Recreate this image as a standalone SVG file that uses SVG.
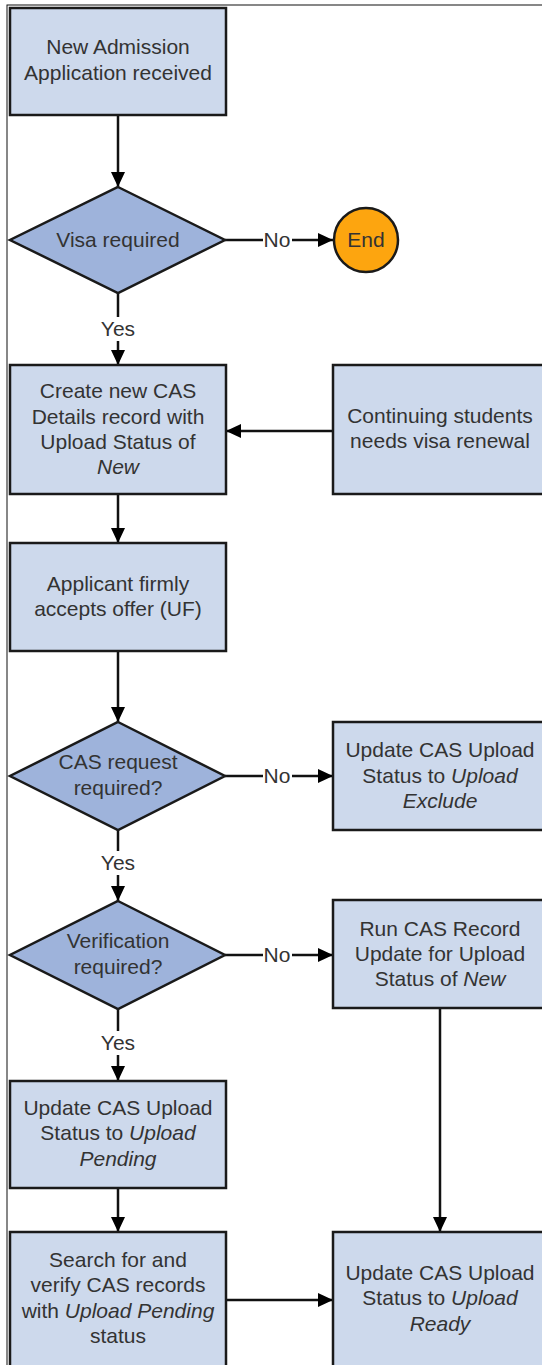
<svg xmlns="http://www.w3.org/2000/svg" width="542" height="1365" viewBox="0 0 542 1365">
<style>
.box{fill:#CDD9EC;stroke:#1a1a1a;stroke-width:2.5}
.dia{fill:#9EB3DB;stroke:#1a1a1a;stroke-width:2.5}
.t{font-family:"Liberation Sans",Arial,sans-serif;font-size:21px;fill:#333;text-anchor:middle}
.lbl{font-family:"Liberation Sans",Arial,sans-serif;font-size:21px;fill:#333;text-anchor:middle}
.e{stroke:#111;stroke-width:2.5;fill:none}
.bg{fill:#fff}
</style>
<defs>
<marker id="ah" markerUnits="userSpaceOnUse" markerWidth="16" markerHeight="16" refX="15" refY="8" orient="auto" viewBox="0 0 16 16">
<path d="M0,1 L15,8 L0,15 z" fill="#000"/>
</marker>
</defs>
<rect x="7" y="5" width="600" height="1400" fill="none" stroke="#111" stroke-width="1"/>
<g id="connectors">
<line class="e" x1="118" y1="115" x2="118" y2="187" marker-end="url(#ah)"/>
<line class="e" x1="225" y1="240" x2="333" y2="240" marker-end="url(#ah)"/>
<rect class="bg" x="263" y="228" width="29" height="24"/>
<text class="lbl" x="277" y="247">No</text>
<line class="e" x1="118" y1="293" x2="118" y2="365" marker-end="url(#ah)"/>
<rect class="bg" x="98" y="317" width="40" height="24"/>
<text class="lbl" x="118" y="336">Yes</text>
<line class="e" x1="333" y1="431" x2="226" y2="431" marker-end="url(#ah)"/>
<line class="e" x1="118" y1="494" x2="118" y2="543" marker-end="url(#ah)"/>
<line class="e" x1="118" y1="651" x2="118" y2="722" marker-end="url(#ah)"/>
<line class="e" x1="225" y1="776" x2="333" y2="776" marker-end="url(#ah)"/>
<rect class="bg" x="263" y="764" width="29" height="24"/>
<text class="lbl" x="277" y="783">No</text>
<line class="e" x1="118" y1="830" x2="118" y2="901" marker-end="url(#ah)"/>
<rect class="bg" x="98" y="851" width="40" height="24"/>
<text class="lbl" x="118" y="870">Yes</text>
<line class="e" x1="225" y1="955" x2="333" y2="955" marker-end="url(#ah)"/>
<rect class="bg" x="263" y="943" width="29" height="24"/>
<text class="lbl" x="277" y="962">No</text>
<line class="e" x1="118" y1="1009" x2="118" y2="1081" marker-end="url(#ah)"/>
<rect class="bg" x="98" y="1031" width="40" height="24"/>
<text class="lbl" x="118" y="1050">Yes</text>
<line class="e" x1="118" y1="1188" x2="118" y2="1232" marker-end="url(#ah)"/>
<line class="e" x1="440" y1="1008" x2="440" y2="1232" marker-end="url(#ah)"/>
<line class="e" x1="226" y1="1300" x2="333" y2="1300" marker-end="url(#ah)"/>
</g>
<g id="n1">
<rect class="box" x="10" y="8" width="216" height="107"/>
<text class="t" x="118" y="54">New Admission</text>
<text class="t" x="118" y="80">Application received</text>
</g>
<g id="d1">
<polygon class="dia" points="118,187 225,240 118,293 10,240"/>
<text class="t" x="118" y="247">Visa required</text>
</g>
<g id="end">
<circle cx="366" cy="240" r="32" fill="#FDA50F" stroke="#1a1a1a" stroke-width="2.5"/>
<text class="t" x="366" y="247">End</text>
</g>
<g id="n2">
<rect class="box" x="10" y="365" width="216" height="129"/>
<text class="t" x="118" y="398">Create new CAS</text>
<text class="t" x="118" y="424">Details record with</text>
<text class="t" x="118" y="449">Upload Status of</text>
<text class="t" x="118" y="474" font-style="italic">New</text>
</g>
<g id="n3">
<rect class="box" x="333" y="365" width="214" height="129"/>
<text class="t" x="440" y="423">Continuing students</text>
<text class="t" x="440" y="448">needs visa renewal</text>
</g>
<g id="n4">
<rect class="box" x="10" y="543" width="216" height="108"/>
<text class="t" x="118" y="591">Applicant firmly</text>
<text class="t" x="118" y="616">accepts offer (UF)</text>
</g>
<g id="d2">
<polygon class="dia" points="118,722 225,776 118,830 10,776"/>
<text class="t" x="118" y="769">CAS request</text>
<text class="t" x="118" y="795">required?</text>
</g>
<g id="n5">
<rect class="box" x="333" y="722" width="214" height="108"/>
<text class="t" x="440" y="757">Update CAS Upload</text>
<text class="t" x="440" y="783">Status to <tspan font-style="italic">Upload</tspan></text>
<text class="t" x="440" y="808" font-style="italic">Exclude</text>
</g>
<g id="d3">
<polygon class="dia" points="118,901 225,955 118,1009 10,955"/>
<text class="t" x="118" y="948">Verification</text>
<text class="t" x="118" y="974">required?</text>
</g>
<g id="n6">
<rect class="box" x="333" y="900" width="214" height="108"/>
<text class="t" x="440" y="936">Run CAS Record</text>
<text class="t" x="440" y="961">Update for Upload</text>
<text class="t" x="440" y="986">Status of <tspan font-style="italic">New</tspan></text>
</g>
<g id="n7">
<rect class="box" x="10" y="1081" width="216" height="107"/>
<text class="t" x="118" y="1115">Update CAS Upload</text>
<text class="t" x="118" y="1140">Status to <tspan font-style="italic">Upload</tspan></text>
<text class="t" x="118" y="1166" font-style="italic">Pending</text>
</g>
<g id="n8">
<rect class="box" x="10" y="1232" width="216" height="140"/>
<text class="t" x="118" y="1267">Search for and</text>
<text class="t" x="118" y="1292">verify CAS records</text>
<text class="t" x="118" y="1318">with <tspan font-style="italic">Upload Pending</tspan></text>
<text class="t" x="118" y="1343">status</text>
</g>
<g id="n9">
<rect class="box" x="333" y="1232" width="214" height="140"/>
<text class="t" x="440" y="1280">Update CAS Upload</text>
<text class="t" x="440" y="1305">Status to <tspan font-style="italic">Upload</tspan></text>
<text class="t" x="440" y="1331" font-style="italic">Ready</text>
</g>
</svg>
